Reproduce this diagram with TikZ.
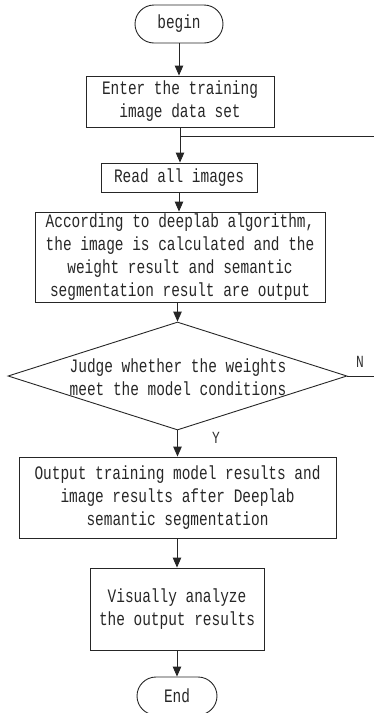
\documentclass[tikz,border=0pt]{standalone}
\usepackage{fontspec}
\usetikzlibrary{arrows.meta,shapes.geometric,shapes.misc}
\newfontfamily\flowfont[FakeStretch=0.76]{Liberation Mono}

\tikzset{
  flow/.style={line width=0.9pt, draw=black!85},
  arr/.style={flow, -{Triangle[length=10pt,width=8.5pt]}},
  txt/.style={font=\flowfont\fontsize{19}{23}\selectfont, align=center, text=black!85},
  procbox/.style={txt, draw=black!85, line width=0.9pt, rectangle, inner sep=0pt},
  termbox/.style={txt, draw=black!85, line width=0.9pt, rounded rectangle, inner sep=0pt},
  tag/.style={font=\flowfont\fontsize{17}{20}\selectfont, text=black!80, inner sep=0pt}
}

\begin{document}
\begin{tikzpicture}[x=1pt, y=-1pt]
  \useasboundingbox (0,0) rectangle (374,713);

  % terminals and process steps
  \node[termbox, minimum width=88pt, minimum height=38pt] (begin) at (179,24) {begin};
  \node[procbox, minimum width=188pt, minimum height=51pt] (enter) at (180,101.5)
    {Enter the training\\image data set};
  \node[procbox, minimum width=156pt, minimum height=29pt] (read) at (179,177.5)
    {Read all images};
  \node[procbox, minimum width=290pt, minimum height=90pt] (calc) at (180,257)
    {According to deeplab algorithm,\\the image is calculated and the\\weight result and semantic\\segmentation result are output};

  % decision
  \node[diamond, draw=black!85, line width=0.9pt, inner sep=0pt,
        minimum width=339pt, minimum height=108pt] (judge) at (177.5,376) {};
  \node[txt] (judgetxt) at (178,377)
    {Judge whether the weights\\meet the model conditions};

  \node[procbox, minimum width=317pt, minimum height=81pt] (output) at (177.5,497.5)
    {Output training model results and\\image results after Deeplab\\semantic segmentation};
  \node[procbox, minimum width=174pt, minimum height=82pt] (visual) at (177,609)
    {Visually analyze\\the output results};
  \node[termbox, minimum width=80pt, minimum height=38pt] (finish) at (177,696) {End};

  % branch labels
  \node[tag] (ylab) at (216,438) {Y};
  \node[tag] (nlab) at (360,362) {N};

  % connectors
  \coordinate (join) at (180,136);
  \coordinate (loopB) at (382,376);
  \draw[arr] (begin.south) -- (begin.south |- enter.north);
  \draw[arr] (enter.south) -- (enter.south |- read.north);
  \draw[arr] (read.south) -- (read.south |- calc.north);
  \draw[arr] (calc.south -| judge.north) -- (judge.north);
  \draw[arr] (judge.south) -- (judge.south |- output.north);
  \draw[arr] (output.south -| visual.north) -- (visual.north);
  \draw[arr] (visual.south) -- (finish.north);
  \draw[flow] (judge.east) -- (loopB) |- (join);
\end{tikzpicture}
\end{document}
